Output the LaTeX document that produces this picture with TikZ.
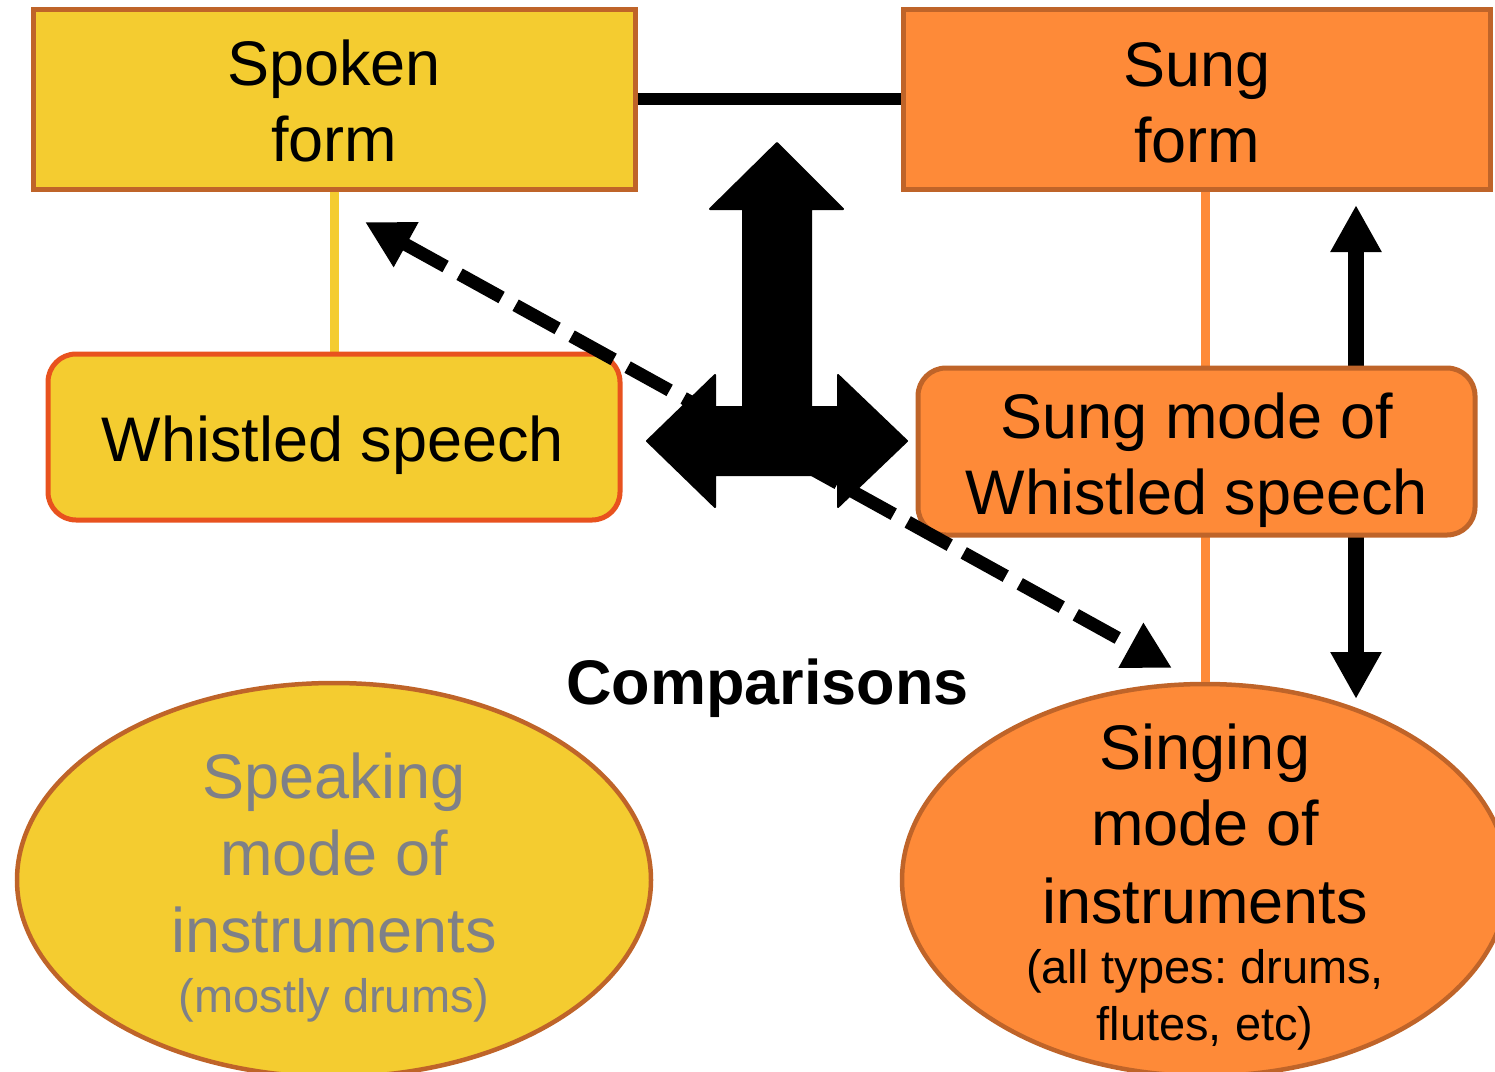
\documentclass[tikz,border=0pt]{standalone}
\usepackage{fontspec}
\setmainfont{Liberation Sans}
\frenchspacing
\usetikzlibrary{arrows.meta,shapes.geometric}
\definecolor{yel}{HTML}{F4CC30}
\definecolor{org}{HTML}{FE8A38}
\definecolor{brd}{HTML}{BF6429}
\definecolor{redbrd}{HTML}{E8521E}
\definecolor{gtxt}{HTML}{7E8088}
\tikzset{
  formbox/.style={draw=brd, line width=5pt, inner sep=0pt},
  roundbox/.style={draw, line width=5pt, rounded corners=28pt, inner sep=0pt},
  oval/.style={ellipse, draw=brd, line width=4.5pt, inner sep=0pt},
  big/.style={font=\fontsize{63}{75}\selectfont, anchor=base, inner sep=0pt},
  small/.style={font=\fontsize{47}{56}\selectfont, anchor=base, inner sep=0pt},
  dblarrow/.style={line width=16pt, {Triangle[length=47pt,width=48pt]}-{Triangle[length=47pt,width=48pt]}},
  dasharrow/.style={line width=13pt, dash pattern=on 48pt off 16pt, {Triangle[length=47pt,width=48pt]}-{Triangle[length=47pt,width=48pt]}},
}
\begin{document}
\begin{tikzpicture}[x=1pt,y=-1pt]
\useasboundingbox (0,0) rectangle (1495,1071);
\clip (0,0) rectangle (1495,1071);

% ellipses
\node[oval, fill=yel, minimum width=634pt, minimum height=394pt] (speak) at (334,880) {};
\node[oval, fill=org, minimum width=606pt, minimum height=392pt] (sing) at (1205,880) {};

% vertical double arrow (behind the sung-mode box)
\coordinate (vx) at (1356,0);
\draw[dblarrow] ([yshift=-16pt]vx |- 0,189) coordinate (va) -- (vx |- 0,699) coordinate (vb);

% top boxes
\node[formbox, fill=yel, minimum width=602pt, minimum height=180pt] (spoken) at (334,99) {};
\node[formbox, fill=org, minimum width=587pt, minimum height=180pt] (sungform) at (1196.5,99) {};

% connectors
\draw[line width=12pt] (spoken.east) -- (spoken.east -| sungform.west);
\draw[yel, line width=9pt] (spoken.south) -- (spoken.south |- 0,354);
\draw[org, line width=9pt] (sing.north |- sungform.south) -- (sing.north |- 0,368);
\draw[org, line width=9pt] (sing.north |- 0,535) -- (sing.north);

% middle boxes
\node[roundbox, draw=redbrd, fill=yel, minimum width=572pt, minimum height=166pt] (whistled) at (334,437) {};
\node[roundbox, draw=brd, fill=org, minimum width=557pt, minimum height=167pt] (sungmode) at (1196.5,451.5) {};

% block arrow
\fill[line join=round, draw, line width=2pt] (777,143) -- (843,209) -- (811,209) -- (811,407) -- (838,407) -- (838,375)
  -- (907,441) -- (838,507) -- (838,475) -- (715,475) -- (715,507) -- (647,441) -- (715,375) -- (715,407)
  -- (743,407) -- (743,209) -- (710,209) -- cycle;

% dashed comparison arrow
\coordinate (da) at (365,222);
\coordinate (db) at (1172,668);
\draw[dasharrow] (da) -- (db);

% texts
\node[big] (t1) at (334,85) {Spoken};
\node[big] (t2) at (334,161) {form};
\node[big] (t3) at (1197,86) {Sung};
\node[big] (t4) at (1197,162) {form};
\node[big] (t5) at (333,461) {Whistled speech};
\node[big] (t6) at (1197,438) {Sung mode of};
\node[big] (t7) at (1197,514) {Whistled speech};
\node[big, font=\fontsize{63}{75}\selectfont\bfseries] (t8) at (767.5,704) {Comparisons};
\node[big, text=gtxt] (t9) at (334,798) {Speaking};
\node[big, text=gtxt] (t10) at (334,875) {mode of};
\node[big, text=gtxt] (t11) at (334,952) {instruments};
\node[small, text=gtxt] (t12) at (334,1012) {(mostly drums)};
\node[big] (t13) at (1205,769) {Singing};
\node[big] (t14) at (1205,845) {mode of};
\node[big] (t15) at (1205,923) {instruments};
\node[small] (t16) at (1205,983) {(all types: drums,};
\node[small] (t17) at (1205,1040) {flutes, etc)};
\end{tikzpicture}
\end{document}
